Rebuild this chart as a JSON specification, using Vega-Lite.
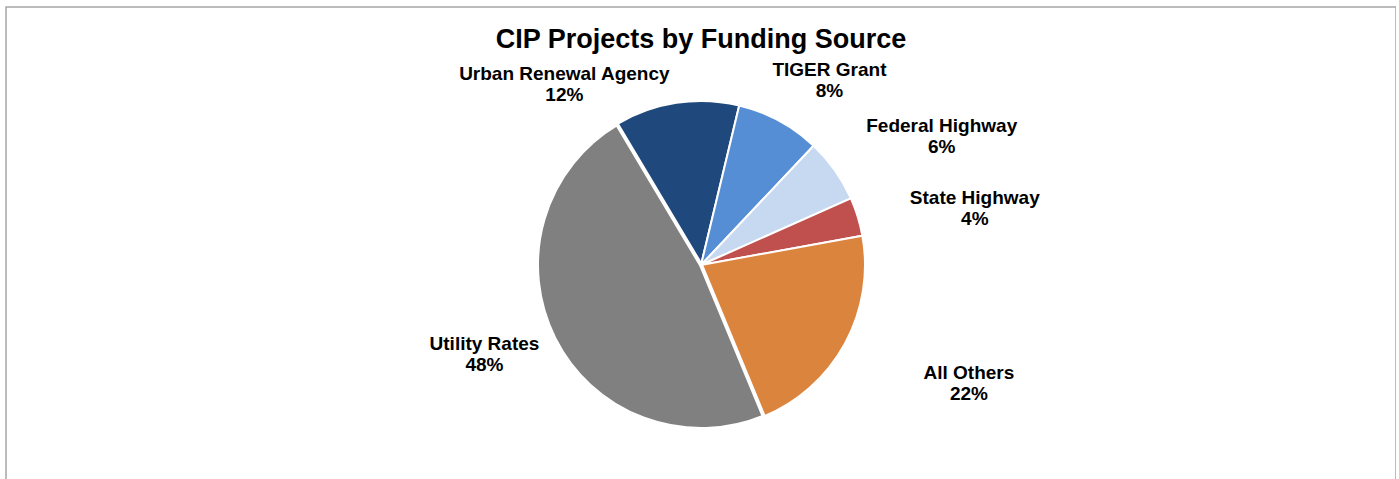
{
  "$schema": "https://vega.github.io/schema/vega-lite/v6.json",
  "width": 1390,
  "height": 516,
  "autosize": {"type": "none"},
  "padding": {"left": 6, "top": 7, "right": 0, "bottom": 0},
  "background": "white",
  "view": {"stroke": "#a6a6a6", "strokeWidth": 1.5, "fill": "white"},
  "title": {
    "text": "CIP Projects by Funding Source",
    "font": "Liberation Sans",
    "fontSize": 27,
    "fontWeight": "bold",
    "color": "#000000",
    "anchor": "middle",
    "offset": -47
  },
  "data": {
    "values": [
      {"rank": 1, "category": "Urban Renewal Agency", "share": 12.3},
      {"rank": 2, "category": "TIGER Grant", "share": 8.3},
      {"rank": 3, "category": "Federal Highway", "share": 6.3},
      {"rank": 4, "category": "State Highway", "share": 3.8},
      {"rank": 5, "category": "All Others", "share": 21.6},
      {"rank": 6, "category": "Utility Rates", "share": 47.7}
    ]
  },
  "transform": [
    {"calculate": "datum.category + '\\n' + format(datum.share, '.0f') + '%'", "as": "label"}
  ],
  "encoding": {
    "theta": {"field": "share", "type": "quantitative", "stack": true, "scale": {"range": [-0.5376, 5.7456]}},
    "order": {"field": "rank", "type": "ordinal"}
  },
  "layer": [
    {
      "mark": {"type": "arc", "outerRadius": 164, "stroke": "white"},
      "encoding": {
        "color": {
          "field": "category",
          "type": "nominal",
          "scale": {
            "domain": ["Urban Renewal Agency", "TIGER Grant", "Federal Highway", "State Highway", "All Others", "Utility Rates"],
            "range": ["#1F497D", "#558ED5", "#C6D9F1", "#C0504D", "#DB843D", "#808080"]
          },
          "legend": null
        },
        "strokeWidth": {
          "condition": {"test": "datum.category === 'Utility Rates'", "value": 4},
          "value": 2
        }
      }
    },
    {
      "mark": {
        "type": "text",
        "radius": 230,
        "font": "Liberation Sans",
        "fontSize": 19,
        "fontWeight": "bold",
        "color": "#000000",
        "lineBreak": "\n",
        "lineHeight": 21,
        "align": "center",
        "baseline": "middle",
        "dx": {"expr": "datum.category === 'Urban Renewal Agency' ? -102 : datum.category === 'TIGER Grant' ? 19 : datum.category === 'Federal Highway' ? 53 : datum.category === 'State Highway' ? 54 : datum.category === 'All Others' ? 66 : -11"},
        "dy": {"expr": "datum.category === 'Urban Renewal Agency' ? 36 : datum.category === 'TIGER Grant' ? 7 : datum.category === 'Federal Highway' ? -6 : datum.category === 'State Highway' ? 1 : datum.category === 'All Others' ? -2 : -24"}
      },
      "encoding": {"text": {"field": "label", "type": "nominal"}}
    }
  ]
}
